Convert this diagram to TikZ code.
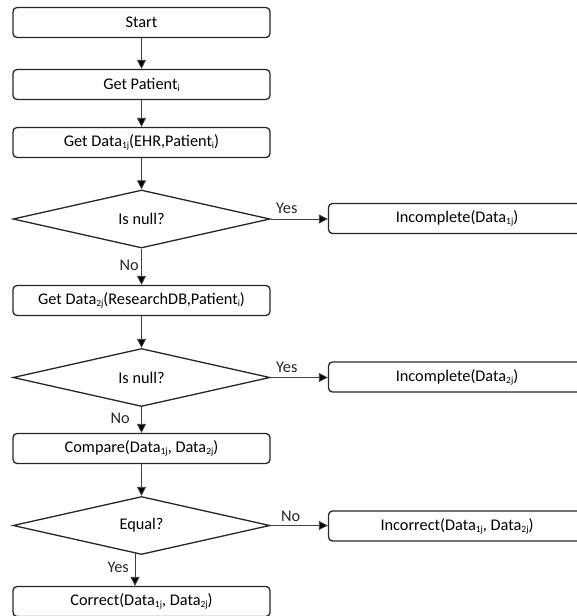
\documentclass[tikz,border=0pt]{standalone}
\usepackage{fontspec}
\setmainfont{Carlito}
\usetikzlibrary{shapes.geometric,arrows.meta}
\newcommand\lsub[1]{\raisebox{-1.8pt}{\fontsize{9.5}{10}\selectfont #1}}
\begin{document}
\begin{tikzpicture}[x=1pt,y=-1pt,
  every node/.style={font=\fontsize{16.3}{19}\selectfont},
  box/.style={draw=black!85,line width=1.3pt,rounded corners=4pt,minimum width=257pt,minimum height=30pt,inner sep=0pt},
  dec/.style={draw=black!85,line width=1.3pt,diamond,aspect=4.4,minimum width=257pt,minimum height=58pt,inner sep=0pt},
  arr/.style={draw=black!75,line width=0.8pt,-{Triangle[length=9pt,width=9pt,fill=black]}},
  lbl/.style={inner sep=0pt,text=black!85}]
\useasboundingbox (0,0) rectangle (577,616);
\clip (0,0) rectangle (577,616);
\node[box] (start) at (141.5,22.5) {Start};
\node[box] (pat) at (141.5,84.5) {Get Patient\lsub{i}};
\node[box] (dA) at (141.5,142.5) {Get Data\lsub{1j}(EHR,Patient\lsub{i})};
\node[dec] (q1) at (141.5,219) {Is null?};
\node[box] (inc1) at (457,218.5) {Incomplete(Data\lsub{1j})};
\node[box] (dB) at (141.5,300.5) {Get Data\lsub{2j}(ResearchDB,Patient\lsub{i})};
\node[dec] (q2) at (141.5,377.5) {Is null?};
\node[box] (inc2) at (457,377) {Incomplete(Data\lsub{2j})};
\node[box] (cmp) at (141.5,448.5) {Compare(Data\lsub{1j}, Data\lsub{2j})};
\node[dec] (q3) at (141.5,525.5) {Equal?};
\node[box] (incor) at (457,526) {Incorrect(Data\lsub{1j}, Data\lsub{2j})};
\node[box] (cor) at (141.5,601.5) {Correct(Data\lsub{1j}, Data\lsub{2j})};
\coordinate (q3b) at (135,553);
\draw[arr] (start) -- (pat);
\draw[arr] (pat) -- (dA);
\draw[arr] (dA) -- (q1);
\draw[arr] (q1.east) -- (q1.east -| inc1.west);
\draw[arr] (q1) -- (dB);
\draw[arr] (dB) -- (q2);
\draw[arr] (q2.east) -- (q2.east -| inc2.west);
\draw[arr] (q2) -- (cmp);
\draw[arr] (cmp) -- (q3);
\draw[arr] (q3.east) -- (q3.east -| incor.west);
\draw[arr] (q3b) -- (q3b |- cor.north);
\node[lbl,anchor=west] (y1) at (276,208) {Yes};
\node[lbl,anchor=east] (n1) at (139,265) {No};
\node[lbl,anchor=west] (y2) at (276,367) {Yes};
\node[lbl,anchor=east] (n2) at (130,418) {No};
\node[lbl,anchor=west] (n3) at (281,516) {No};
\node[lbl,anchor=east] (y3) at (129,567) {Yes};
\end{tikzpicture}
\end{document}
